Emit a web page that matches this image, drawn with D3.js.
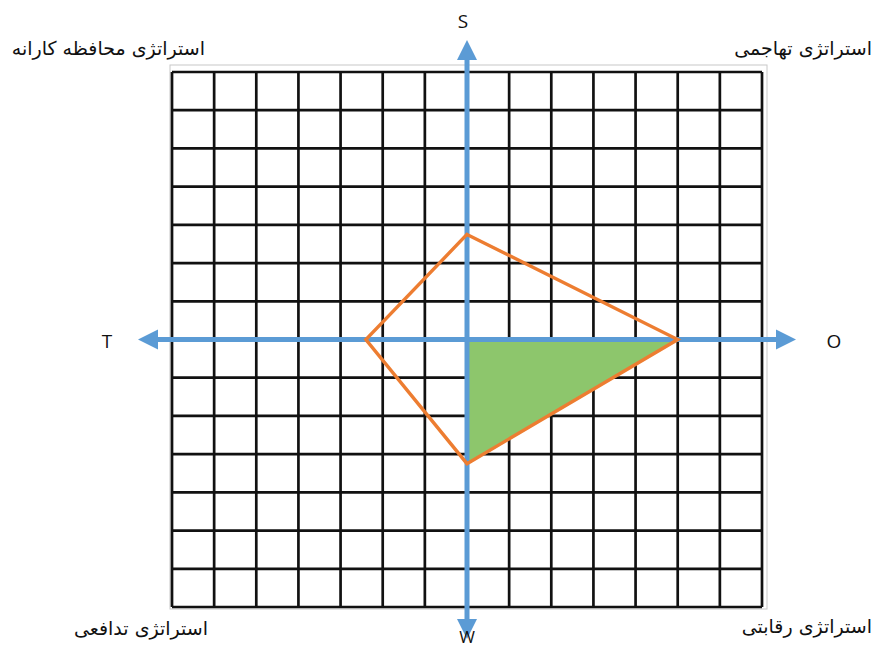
<!DOCTYPE html>
<html>
<head>
<meta charset="utf-8">
<script src="https://cdn.jsdelivr.net/npm/d3@7"></script>
<style>
  html, body { margin: 0; padding: 0; background: #fff; }
  svg { display: block; }
</style>
</head>
<body>
<div id="chart"></div>
<script>
// grid steps along each axis (cells)
const gridSteps = [-7, -6, -5, -4, -3, -2, -1, 0, 1, 2, 3, 4, 5, 6, 7];

// axis names and the score read on each one
const axisNames = ['S', 'O', 'W', 'T'];
const axisScores = [2.75, 5, 3.25, 2.4];

// quadrant captions
const quadrantLabels = [
  'استراتژی محافظه کارانه',
  'استراتژی تهاجمی',
  'استراتژی تدافعی',
  'استراتژی رقابتی'
];

const WIDTH = 873;
const HEIGHT = 649;
const margin = { LEFT: 172, RIGHT: 111, TOP: 72, BOTTOM: 42 };

const svg = d3.select('#chart').append('svg')
  .attr('width', WIDTH)
  .attr('height', HEIGHT);

const x = d3.scaleLinear()
  .domain(d3.extent(gridSteps))
  .range([margin.LEFT, WIDTH - margin.RIGHT]);

const y = d3.scaleLinear()
  .domain(d3.extent(gridSteps))
  .range([HEIGHT - margin.BOTTOM, margin.TOP]);

const [x0, x1] = x.range();
const [y1, y0] = y.range();

// faint frame behind the grid
svg.append('rect')
  .attr('x', x0 - 2)
  .attr('y', y0 - 7)
  .attr('width', x1 - x0 + 7)
  .attr('height', y1 - y0 + 9)
  .attr('fill', 'none')
  .attr('stroke', '#c8c8c8')
  .attr('stroke-width', 1);

// grid
const grid = svg.append('g').attr('class', 'grid');

grid.selectAll('line.v')
  .data(gridSteps)
  .join('line')
  .attr('class', 'v')
  .attr('x1', d => x(d)).attr('x2', d => x(d))
  .attr('y1', y0).attr('y2', y1)
  .attr('stroke', '#111')
  .attr('stroke-width', 2.7);

grid.selectAll('line.h')
  .data(gridSteps)
  .join('line')
  .attr('class', 'h')
  .attr('y1', d => y(d)).attr('y2', d => y(d))
  .attr('x1', x0).attr('x2', x1)
  .attr('stroke', '#111')
  .attr('stroke-width', 2.7);

// score points: S up, O right, W down, T left
const score = {};
axisNames.forEach((n, i) => { score[n] = axisScores[i]; });

const pts = [
  [x(0), y(score.S)],
  [x(score.O), y(0)],
  [x(0), y(-score.W)],
  [x(-score.T), y(0)]
];

// green triangle in the O/W quadrant
svg.append('path')
  .attr('d', d3.line()([[x(0), y(0)], [x(score.O), y(0)], [x(0), y(-score.W)]]) + 'Z')
  .attr('fill', '#8dc66c')
  .attr('stroke', '#4a7ec4')
  .attr('stroke-width', 1.2);

// axes with arrows
const axisColor = '#5b9bd5';
const extH = 34, extV = 32, headL = 20, headW = 10;
const axes = svg.append('g').attr('class', 'axes');

axes.append('line')
  .attr('x1', x0 - extH + headL).attr('x2', x1 + extH - headL)
  .attr('y1', y(0)).attr('y2', y(0))
  .attr('stroke', axisColor).attr('stroke-width', 5);

axes.append('line')
  .attr('x1', x(0)).attr('x2', x(0))
  .attr('y1', y0 - extV + headL).attr('y2', y1 + extV - headL)
  .attr('stroke', axisColor).attr('stroke-width', 5);

const heads = [
  [[x1 + extH, y(0)], [x1 + extH - headL, y(0) - headW], [x1 + extH - headL, y(0) + headW]],
  [[x0 - extH, y(0)], [x0 - extH + headL, y(0) - headW], [x0 - extH + headL, y(0) + headW]],
  [[x(0), y0 - extV], [x(0) - headW, y0 - extV + headL], [x(0) + headW, y0 - extV + headL]],
  [[x(0), y1 + extV], [x(0) - headW, y1 + extV - headL], [x(0) + headW, y1 + extV - headL]]
];

axes.selectAll('path.head')
  .data(heads)
  .join('path')
  .attr('class', 'head')
  .attr('d', d => d3.line()(d) + 'Z')
  .attr('fill', axisColor);

// orange quadrilateral
svg.append('path')
  .attr('d', d3.line()(pts) + 'Z')
  .attr('fill', 'none')
  .attr('stroke', '#ed7d31')
  .attr('stroke-width', 3.4)
  .attr('stroke-linejoin', 'miter');

// axis letters
const letterPos = {
  S: [x(0) - 4, y0 - 44],
  O: [x1 + 72, y(0) + 8],
  W: [x(0), y1 + 36],
  T: [x0 - 65, y(0) + 8]
};

svg.selectAll('text.axisName')
  .data(axisNames)
  .join('text')
  .attr('class', 'axisName')
  .attr('x', d => letterPos[d][0])
  .attr('y', d => letterPos[d][1])
  .attr('text-anchor', 'middle')
  .attr('font-family', 'Open Sans, sans-serif')
  .attr('font-size', d => d === 'W' ? '17px' : '19px')
  .attr('fill', '#111')
  .text(d => d);

// quadrant captions
const capPos = [
  { x: x0 + 33, y: y0 - 17 },
  { x: WIDTH - 1, y: y0 - 17 },
  { x: x0 + 36, y: y1 + 28 },
  { x: WIDTH - 1, y: y1 + 26 }
];

svg.selectAll('text.quad')
  .data(quadrantLabels)
  .join('text')
  .attr('class', 'quad')
  .attr('x', (d, i) => capPos[i].x)
  .attr('y', (d, i) => capPos[i].y)
  .attr('text-anchor', 'end')
  .attr('font-family', 'DejaVu Sans, sans-serif')
  .attr('font-size', '19px')
  .attr('fill', '#111')
  .text(d => d);
</script>
</body>
</html>
